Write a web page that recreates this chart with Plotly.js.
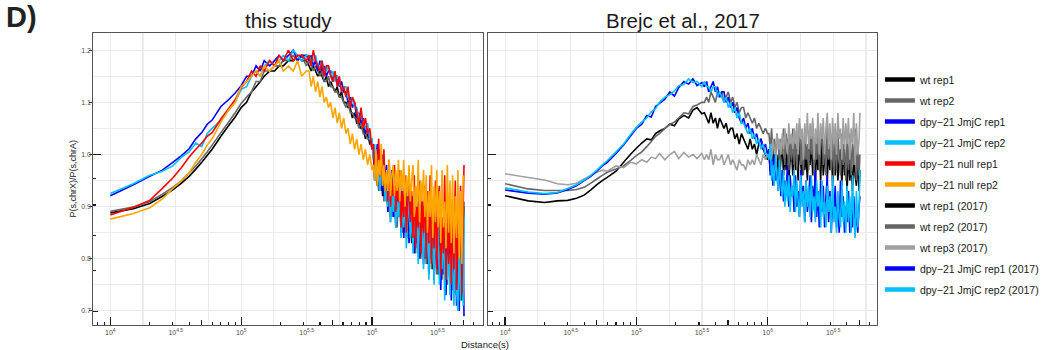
<!DOCTYPE html>
<html><head><meta charset="utf-8">
<script src="https://cdn.plot.ly/plotly-3.0.1.min.js"></script>
<style>html,body{margin:0;padding:0;background:#fff;} #chart{width:1044px;height:350px;}</style>
</head><body><div id="chart"></div>
<script>
// ---------------- DATA ----------------
const distanceKb = [10,15,20,25,30,35,40,45,50,55,60,70,80,90,100,
 110,120,130,140,150,165,180,195,210,230,250,270,290,315,
 330,343,356,370,385,400,415,431,448,465,483,502,522,542,563,585,608,632,656,682,708,736,765,794,825,857,891,925,962,1000,
 1024,1048,1073,1098,1124,1150,1177,1205,1233,1262,
 1292,1322,1353,1385,1418,1451,1485,1520,1556,1593,
 1630,1669,1708,1748,1789,1831,1874,1918,1963,2009,
 2057,2105,2155,2205,2257,2310,2365,2420,2477,2536,
 2595,2656,2719,2783,2848,2915,2984,3054,3126,3200,
 3275,3352,3431,3512,3594,3679,3765,3854,3945,4037,
 4132,4230,4329,4431,4535,4642,4751,4863,4977,5050];

const panelTitles = ['this study', 'Brejc et al., 2017'];
const namesThisStudy = ['wt rep1','wt rep2','dpy\u221221 JmjC rep1','dpy\u221221 JmjC rep2','dpy\u221221 null rep1','dpy\u221221 null rep2'];
const names2017 = ['wt rep1 (2017)','wt rep2 (2017)','wt rep3 (2017)','dpy\u221221 JmjC rep1 (2017)','dpy\u221221 JmjC rep2 (2017)'];

// ---- this study ----
const wtRep1 = [0.888,0.896,0.906,0.920,0.932,0.945,0.958,0.972,0.985,0.998,1.010,1.035,1.055,1.072,1.090,
 1.10,1.12,1.13,1.14,1.15,1.16,1.16,1.17,1.17,1.18,1.18,1.19,1.18,1.18,
 1.17,1.16,1.17,1.16,1.15,1.16,1.15,1.14,1.15,1.13,1.14,1.13,1.12,1.13,1.11,1.12,1.10,1.10,1.09,1.09,1.07,1.08,1.06,1.06,1.05,1.05,1.03,1.04,1.02,1.02,
 1.00,0.96,0.98,0.94,1.01,0.95,0.97,0.92,0.99,0.93,
 0.96,0.90,0.95,0.88,0.93,0.90,0.96,0.87,0.92,0.89,
 0.93,0.86,0.91,0.85,0.94,0.84,0.90,0.87,0.92,0.83,
 0.90,0.82,0.88,0.84,0.91,0.81,0.89,0.83,0.90,0.80,
 0.88,0.79,0.90,0.81,0.87,0.78,0.89,0.80,0.86,0.77,
 0.88,0.76,0.85,0.79,0.89,0.75,0.86,0.78,0.87,0.74,
 0.86,0.76,0.88,0.73,0.85,0.75,0.89,0.72,0.87,0.90];
const wtRep2 = [0.891,0.899,0.910,0.924,0.937,0.950,0.965,0.978,0.992,1.005,1.018,1.042,1.062,1.080,1.098,
 1.11,1.12,1.14,1.14,1.16,1.16,1.17,1.17,1.18,1.18,1.19,1.18,1.19,1.17,
 1.18,1.17,1.16,1.17,1.16,1.15,1.16,1.14,1.14,1.15,1.13,1.13,1.12,1.12,1.11,1.11,1.10,1.09,1.10,1.08,1.08,1.07,1.07,1.05,1.06,1.04,1.04,1.03,1.03,1.01,
 1.01,0.95,0.99,0.96,0.93,1.00,0.94,0.98,0.91,0.97,
 0.93,0.89,0.96,0.87,0.94,0.91,0.88,0.95,0.86,0.92,
 0.88,0.93,0.85,0.91,0.87,0.93,0.84,0.90,0.86,0.92,
 0.83,0.89,0.81,0.91,0.84,0.88,0.80,0.90,0.82,0.87,
 0.79,0.89,0.82,0.86,0.78,0.90,0.80,0.88,0.77,0.86,
 0.80,0.87,0.76,0.88,0.78,0.85,0.75,0.89,0.77,0.86,
 0.74,0.88,0.77,0.85,0.73,0.89,0.75,0.87,0.74,0.91];
const jmjcRep1 = [0.921,0.942,0.958,0.970,0.985,0.998,1.011,1.030,1.042,1.058,1.066,1.092,1.105,1.118,1.132,
 1.15,1.15,1.17,1.16,1.18,1.17,1.18,1.19,1.18,1.19,1.20,1.18,1.19,1.19,
 1.18,1.19,1.17,1.18,1.16,1.18,1.16,1.17,1.15,1.16,1.16,1.14,1.15,1.15,1.13,1.14,1.12,1.12,1.10,1.11,1.09,1.10,1.07,1.08,1.06,1.07,1.04,1.05,1.03,1.02,
 1.01,0.95,0.99,1.02,0.94,0.97,0.93,1.00,0.92,0.96,
 0.98,0.89,0.94,0.91,0.97,0.88,0.93,0.86,0.95,0.89,
 0.92,0.85,0.94,0.84,0.90,0.87,0.93,0.83,0.89,0.85,
 0.92,0.81,0.88,0.83,0.90,0.80,0.86,0.91,0.79,0.87,
 0.82,0.90,0.77,0.86,0.80,0.89,0.76,0.84,0.88,0.78,
 0.87,0.74,0.83,0.77,0.88,0.73,0.85,0.79,0.86,0.72,
 0.84,0.76,0.87,0.71,0.82,0.70,0.86,0.74,0.83,0.69];
const jmjcRep2 = [0.925,0.944,0.960,0.968,0.978,0.995,1.005,1.022,1.015,1.040,1.050,1.065,1.085,1.100,1.125,
 1.13,1.15,1.16,1.15,1.17,1.18,1.17,1.18,1.19,1.18,1.20,1.19,1.18,1.19,
 1.19,1.18,1.18,1.19,1.17,1.17,1.18,1.16,1.16,1.17,1.15,1.16,1.14,1.15,1.14,1.12,1.13,1.13,1.11,1.10,1.11,1.09,1.09,1.07,1.08,1.06,1.05,1.06,1.03,1.03,
 0.99,1.02,0.95,1.00,0.96,0.93,0.99,0.94,0.97,0.91,
 0.95,0.90,0.97,0.87,0.93,0.89,0.95,0.86,0.91,0.88,
 0.94,0.84,0.90,0.86,0.92,0.82,0.88,0.91,0.84,0.89,
 0.81,0.90,0.84,0.87,0.79,0.91,0.82,0.86,0.78,0.89,
 0.80,0.87,0.76,0.90,0.79,0.85,0.75,0.88,0.80,0.86,
 0.75,0.84,0.78,0.87,0.72,0.85,0.76,0.81,0.73,0.86,
 0.78,0.71,0.85,0.74,0.70,0.83,0.72,0.87,0.71,0.88];
const nullRep1 = [0.884,0.899,0.912,0.935,0.955,0.975,0.995,1.010,1.022,1.035,1.042,1.068,1.088,1.105,1.128,
 1.14,1.16,1.15,1.17,1.16,1.18,1.17,1.19,1.18,1.20,1.18,1.19,1.19,1.18,
 1.19,1.17,1.20,1.18,1.17,1.16,1.18,1.15,1.17,1.17,1.15,1.14,1.16,1.13,1.15,1.12,1.13,1.11,1.13,1.09,1.11,1.10,1.08,1.06,1.09,1.05,1.07,1.04,1.05,1.01,
 1.02,0.97,1.00,0.95,1.03,0.96,0.99,0.94,1.01,0.93,
 0.97,0.91,0.99,0.90,0.95,0.92,0.98,0.89,0.94,0.91,
 0.97,0.86,0.93,0.88,0.96,0.85,0.91,0.95,0.87,0.93,
 0.84,0.96,0.82,0.90,0.86,0.95,0.81,0.92,0.85,0.94,
 0.80,0.93,0.83,0.96,0.79,0.90,0.82,0.95,0.78,0.91,
 0.94,0.77,0.88,0.81,0.96,0.76,0.90,0.79,0.93,0.75,
 0.89,0.78,0.95,0.74,0.91,0.80,0.94,0.73,0.90,0.98];
const nullRep2 = [0.876,0.887,0.898,0.915,0.935,0.950,0.965,0.985,1.000,1.018,1.030,1.062,1.085,1.100,1.130,
 1.14,1.15,1.16,1.15,1.17,1.16,1.17,1.18,1.16,1.17,1.16,1.18,1.15,1.16,
 1.16,1.13,1.15,1.12,1.14,1.11,1.13,1.10,1.11,1.09,1.10,1.07,1.09,1.06,1.08,1.05,1.07,1.04,1.05,1.02,1.04,1.01,1.03,1.00,1.02,0.99,1.01,0.98,1.00,0.97,
 0.98,0.95,1.01,0.94,0.99,0.96,1.02,0.94,0.98,0.93,
 0.97,0.93,0.99,0.92,0.96,0.98,0.92,0.97,0.93,0.99,
 0.91,0.97,0.93,0.99,0.90,0.96,0.92,0.98,0.91,0.95,
 0.98,0.88,0.94,0.90,0.99,0.87,0.95,0.91,0.97,0.88,
 0.96,0.85,0.93,0.88,0.98,0.84,0.94,0.87,0.97,0.86,
 0.93,0.83,0.97,0.86,0.91,0.82,0.98,0.85,0.95,0.83,
 0.96,0.81,0.92,0.84,0.97,0.80,0.93,0.79,0.96,0.95];

// ---- Brejc et al., 2017 ----
const wt2017Rep1 = [0.921,0.911,0.908,0.911,0.912,0.916,0.922,0.932,0.942,0.950,0.956,0.968,0.985,1.000,1.012,
 1.022,1.030,1.028,1.040,1.045,1.050,1.058,1.055,1.068,1.075,1.070,1.085,1.090,1.078,
 1.08,1.07,1.06,1.08,1.06,1.07,1.05,1.07,1.06,1.05,1.06,1.04,1.05,1.05,1.03,1.04,1.02,1.04,1.03,1.02,1.01,1.03,1.01,1.02,1.00,1.02,1.03,1.01,1.00,0.99,
 1.00,0.97,0.99,1.01,0.96,0.98,0.97,1.00,0.95,0.99,
 1.02,0.96,1.00,0.97,1.03,0.95,0.99,1.01,0.96,1.02,
 0.97,1.01,0.95,1.03,0.98,0.96,1.02,0.97,1.00,0.95,
 1.02,0.98,1.03,0.96,1.00,0.94,1.02,0.97,1.01,0.95,
 1.03,0.96,0.99,1.02,0.95,1.01,0.97,1.03,0.94,1.00,
 0.96,1.02,0.95,0.99,1.01,0.94,1.02,0.96,0.99,0.93,
 1.01,0.95,0.98,0.93,1.00,0.96,0.94,0.99,0.93,0.97];
const wt2017Rep2 = [0.944,0.934,0.931,0.931,0.931,0.933,0.937,0.945,0.953,0.960,0.966,0.972,0.978,0.988,0.998,
 1.005,1.015,1.025,1.035,1.040,1.050,1.058,1.062,1.070,1.080,1.078,1.092,1.095,1.100,
 1.10,1.11,1.10,1.12,1.11,1.10,1.12,1.11,1.12,1.10,1.11,1.12,1.10,1.11,1.09,1.10,1.08,1.09,1.09,1.07,1.08,1.07,1.06,1.07,1.05,1.06,1.05,1.04,1.05,1.04,
 1.04,1.01,1.05,1.00,1.03,0.99,1.04,1.02,0.98,1.03,
 1.00,1.05,0.98,1.04,1.01,0.97,1.03,0.99,1.05,0.98,
 1.04,0.97,1.02,1.06,0.98,1.03,0.96,1.05,0.99,1.02,
 0.97,1.04,1.00,1.06,0.96,1.03,0.99,1.05,0.97,1.02,
 1.05,0.98,1.03,0.96,1.06,0.99,1.02,0.97,1.04,0.96,
 1.03,0.97,1.05,0.99,0.96,1.04,0.98,1.02,0.95,1.03,
 0.97,1.04,0.96,1.02,0.98,1.05,0.95,1.01,0.96,1.00];
const wt2017Rep3 = [0.963,0.956,0.951,0.944,0.942,0.945,0.953,0.960,0.966,0.970,0.968,0.978,0.975,0.985,0.982,
 0.990,0.985,0.995,0.992,1.002,0.990,1.000,1.006,0.992,1.004,0.995,1.000,0.992,1.002,
 0.99,1.00,0.99,1.01,0.98,1.00,0.99,0.99,1.00,0.98,0.99,1.00,0.98,0.99,0.98,0.97,0.99,0.98,0.98,0.97,0.99,0.98,0.99,0.98,1.00,0.99,0.98,1.00,0.99,1.00,
 1.00,1.02,0.99,1.03,1.01,1.00,1.04,1.01,1.03,1.00,
 1.04,1.01,1.05,1.02,1.00,1.06,1.02,1.04,1.01,1.05,
 1.02,1.06,1.00,1.07,1.03,1.05,0.99,1.06,1.02,1.08,
 1.01,1.06,1.03,1.07,0.99,1.05,1.02,1.08,1.00,1.06,
 1.03,1.07,1.00,1.05,1.08,1.01,1.06,0.99,1.07,1.02,
 1.06,1.00,1.08,1.03,1.05,0.99,1.07,1.01,1.06,1.02,
 1.07,0.99,1.05,1.02,1.08,0.98,1.06,1.00,1.03,1.08];
const jmjc2017Rep1 = [0.932,0.926,0.924,0.926,0.933,0.940,0.950,0.958,0.968,0.978,0.985,1.002,1.018,1.035,1.050,
 1.058,1.075,1.072,1.092,1.098,1.106,1.120,1.112,1.128,1.140,1.135,1.145,1.132,1.138,
 1.13,1.14,1.12,1.13,1.14,1.12,1.13,1.11,1.12,1.12,1.10,1.11,1.09,1.10,1.08,1.09,1.07,1.06,1.07,1.05,1.06,1.04,1.05,1.03,1.04,1.02,1.03,1.01,1.02,1.00,
 1.01,0.96,0.99,0.94,1.00,0.95,0.97,0.93,0.98,0.92,
 0.97,0.91,0.95,0.93,0.98,0.90,0.96,0.92,0.94,0.89,
 0.96,0.90,0.93,0.88,0.97,0.91,0.94,0.87,0.95,0.89,
 0.92,0.96,0.87,0.94,0.90,0.97,0.88,0.93,0.86,0.95,
 0.89,0.94,0.86,0.92,0.96,0.87,0.93,0.85,0.91,0.88,
 0.94,0.86,0.91,0.85,0.95,0.88,0.92,0.85,0.90,0.87,
 0.93,0.85,0.89,0.86,0.92,0.86,0.88,0.85,0.90,0.92];
const jmjc2017Rep2 = [0.936,0.928,0.925,0.927,0.935,0.942,0.951,0.960,0.970,0.980,0.988,1.005,1.020,1.038,1.052,
 1.062,1.070,1.082,1.088,1.100,1.110,1.115,1.122,1.132,1.134,1.145,1.138,1.140,1.130,
 1.14,1.13,1.13,1.12,1.13,1.13,1.11,1.12,1.11,1.10,1.11,1.09,1.10,1.08,1.09,1.07,1.08,1.06,1.06,1.05,1.04,1.05,1.03,1.04,1.02,1.03,1.01,1.02,1.00,1.00,
 0.99,1.02,0.95,0.98,0.94,1.00,0.96,0.93,0.99,0.94,
 0.92,0.97,0.90,0.95,0.91,0.96,0.89,0.94,0.92,0.97,
 0.89,0.95,0.91,0.88,0.96,0.90,0.93,0.87,0.95,0.90,
 0.94,0.88,0.96,0.89,0.92,0.87,0.95,0.90,0.93,0.86,
 0.95,0.88,0.91,0.86,0.94,0.89,0.92,0.85,0.96,0.87,
 0.90,0.85,0.93,0.88,0.86,0.95,0.87,0.91,0.85,0.94,
 0.87,0.92,0.85,0.96,0.88,0.84,0.93,0.86,0.90,0.97];

// axis tick labels (labelled half-decades; the quarter-decades only carry grid lines)
const xTickExponents = ['4','4.25','4.5','4.75','5','5.25','5.5','5.75','6','6.25','6.5','6.75'];
const xTickShown = [true,false,true,false,true,false,true,false,true,false,true,false];
const yTickValues = [0.7,0.75,0.8,0.85,0.9,0.95,1.0,1.05,1.1,1.15,1.2];
const yTickLabels = ['0.7','','0.8','','0.9','','1.0','','1.1','','1.2'];

// ---------------- STYLE ----------------
const FONT = 'Liberation Sans, Arial, Helvetica, sans-serif';
const colorsThisStudy = ['#000000','#666666','#0000FF','#00BFFF','#FF0000','#FFA500'];
const colors2017 = ['#000000','#666666','#A0A0A0','#0000FF','#00BFFF'];
const W = 1044, H = 350;
const leftDom = [94/W, 486/W], rightDom = [491/W, 882/W];
const yDom = [(H-325)/H, (H-33)/H];
const xRangeL = [3.871, 6.850], xRangeR = [3.871, 6.833], yRange = [0.673, 1.233];
const GRID = '#ebebeb';
const LW = 1.6;

const distanceBp = distanceKb.map(k => k * 1000);
const thisStudy = [wtRep1, wtRep2, jmjcRep1, jmjcRep2, nullRep1, nullRep2];
const study2017 = [wt2017Rep1, wt2017Rep2, wt2017Rep3, jmjc2017Rep1, jmjc2017Rep2];

const traces = [];
thisStudy.forEach((ys, i) => traces.push({
  x: distanceBp, y: ys, type: 'scatter', mode: 'lines', name: namesThisStudy[i],
  xaxis: 'x', yaxis: 'y', showlegend: false,
  line: {color: colorsThisStudy[i], width: LW, simplify: false}
}));
study2017.forEach((ys, i) => traces.push({
  x: distanceBp, y: ys, type: 'scatter', mode: 'lines', name: names2017[i],
  xaxis: 'x2', yaxis: 'y2', showlegend: false,
  line: {color: colors2017[i], width: LW, simplify: false}
}));
// legend entries (thick keys, as in the reference)
namesThisStudy.concat(names2017).forEach((nm, i) => traces.push({
  x: [null], y: [null], type: 'scatter', mode: 'lines', name: nm, legendgroup: 'g' + i,
  xaxis: 'x2', yaxis: 'y2', showlegend: true, hoverinfo: 'skip',
  line: {color: colorsThisStudy.concat(colors2017)[i], width: 4.5}
}));
// empty helpers so the overlay tick axes are drawn
[['x3','y'],['x4','y'],['x5','y2'],['x6','y2'],['x','y3'],['x','y4'],['x2','y5'],['x2','y6'],['x','y7']].forEach(p =>
  traces.push({x: [null], y: [null], type: 'scatter', mode: 'lines', xaxis: p[0], yaxis: p[1], showlegend: false, hoverinfo: 'skip'}));

const xGridVals = xTickExponents.map(e => Math.pow(10, parseFloat(e)));
const xGridText = xTickExponents.map((e, i) => xTickShown[i] ? '10<sup>' + e + '</sup>' : '');
const logMajor = [1e4, 1e5, 1e6];
const logMid = [5e4, 5e5, 5e6];
const logMinor = [8e3, 9e3, 2e4, 3e4, 4e4, 6e4, 7e4, 8e4, 9e4, 2e5, 3e5, 4e5, 6e5, 7e5, 8e5, 9e5, 2e6, 3e6, 4e6, 6e6, 7e6];
const yLogMajor = [1.0], yLogMid = [Math.log10(5)], yLogMinor = [6, 7, 8, 9].map(v => Math.log10(v));
const yLabelled = yTickValues.filter((v, i) => yTickLabels[i] !== '');

function mainX(dom, rng, anchor) {
  return {type: 'log', domain: dom, range: rng, anchor: anchor,
    tickmode: 'array', tickvals: xGridVals, ticktext: xGridText,
    ticks: '', tickfont: {size: 7, color: '#4d4d4d', family: FONT},
    showgrid: true, gridcolor: GRID, gridwidth: 1.1,
    showline: true, mirror: true, linecolor: '#555', linewidth: 1.2, zeroline: false, fixedrange: true};
}
function tickX(over, rng, anchor, vals, len, minorVals) {
  const a = {type: 'log', overlaying: over, anchor: anchor, range: rng, side: 'bottom',
    tickmode: 'array', tickvals: vals, ticks: 'inside', ticklen: len, tickwidth: 1.3, tickcolor: '#1a1a1a',
    showticklabels: false, showgrid: false, showline: false, zeroline: false};
  if (minorVals) a.minor = {tickmode: 'array', tickvals: minorVals, ticks: 'inside', ticklen: 3, tickwidth: 1.2, tickcolor: '#1a1a1a', showgrid: false};
  return a;
}
function mainY(anchor, labels) {
  return {domain: yDom, range: yRange, anchor: anchor,
    tickmode: 'array', tickvals: yTickValues, ticktext: yTickLabels,
    ticks: '', showticklabels: labels, tickfont: {size: 7, color: '#4d4d4d', family: FONT},
    showgrid: true, gridcolor: GRID, gridwidth: 1.1,
    showline: true, mirror: true, linecolor: '#555', linewidth: 1.2, zeroline: false, fixedrange: true};
}
function tickY(over, anchor, vals, len, minorVals, outside) {
  const a = {overlaying: over, anchor: anchor, range: yRange, side: 'left',
    tickmode: 'array', tickvals: vals, ticks: outside ? 'outside' : 'inside', ticklen: len, tickwidth: outside ? 1 : 1.3, tickcolor: outside ? '#333' : '#1a1a1a',
    showticklabels: false, showgrid: false, showline: false, zeroline: false};
  if (minorVals) a.minor = {tickmode: 'array', tickvals: minorVals, ticks: 'inside', ticklen: 2.5, tickwidth: 1.2, tickcolor: '#1a1a1a', showgrid: false};
  return a;
}

const layout = {
  width: W, height: H, margin: {l: 0, r: 0, t: 0, b: 0},
  paper_bgcolor: '#fff', plot_bgcolor: '#fff',
  font: {family: FONT, color: '#1a1a1a'},
  title: {text: '<b>D)</b>', font: {size: 29, color: '#222', family: FONT},
    xref: 'container', yref: 'container', x: 6/W, xanchor: 'left', y: 1 - 17/H, yanchor: 'middle'},
  xaxis: mainX(leftDom, xRangeL, 'y'),
  xaxis2: mainX(rightDom, xRangeR, 'y2'),
  xaxis3: tickX('x', xRangeL, 'y', logMajor, 8, logMinor),
  xaxis4: tickX('x', xRangeL, 'y', logMid, 5, null),
  xaxis5: tickX('x2', xRangeR, 'y2', logMajor, 8, logMinor),
  xaxis6: tickX('x2', xRangeR, 'y2', logMid, 5, null),
  yaxis: mainY('x', true),
  yaxis2: mainY('x2', false),
  yaxis3: tickY('y', 'x', yLogMajor, 8, yLogMinor, false),
  yaxis4: tickY('y', 'x', yLogMid, 5, null, false),
  yaxis5: tickY('y2', 'x2', yLogMajor, 8, yLogMinor, false),
  yaxis6: tickY('y2', 'x2', yLogMid, 5, null, false),
  yaxis7: tickY('y', 'x', yLabelled, 3, null, true),
  showlegend: true,
  legend: {x: 885/W, y: 1 - 65/H, xanchor: 'left', yanchor: 'top', xref: 'paper', yref: 'paper',
    font: {size: 10.5, color: '#1a1a1a', family: FONT}, bgcolor: 'rgba(0,0,0,0)', borderwidth: 0,
    traceorder: 'grouped', tracegroupgap: 2},
  annotations: [
    {text: panelTitles[0], x: (leftDom[0]+leftDom[1])/2, y: 1 - 20/H, xref: 'paper', yref: 'paper', showarrow: false, xanchor: 'center', yanchor: 'middle', font: {size: 20.5, color: '#1a1a1a'}},
    {text: panelTitles[1], x: (rightDom[0]+rightDom[1])/2, y: 1 - 20/H, xref: 'paper', yref: 'paper', showarrow: false, xanchor: 'center', yanchor: 'middle', font: {size: 20.5, color: '#1a1a1a'}},
    {text: 'P(s,chrX)/P(s,chrA)', x: 73/W, y: 1 - 179/H, xref: 'paper', yref: 'paper', showarrow: false, textangle: -90, xanchor: 'center', yanchor: 'middle', font: {size: 9, color: '#1a1a1a'}},
    {text: 'Distance(s)', x: 488/W, y: 1 - 344/H, xref: 'paper', yref: 'paper', showarrow: false, xanchor: 'center', yanchor: 'middle', font: {size: 9.5, color: '#1a1a1a'}}
  ]
};

Plotly.newPlot('chart', traces, layout, {displayModeBar: false, staticPlot: true});
</script></body></html>
